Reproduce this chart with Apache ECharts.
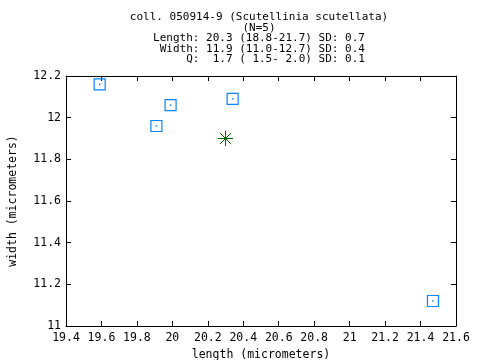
<!DOCTYPE html>
<html>
<head>
<meta charset="utf-8">
<script src="https://cdn.jsdelivr.net/npm/echarts@6/dist/echarts.min.js"></script>
<style>html,body{margin:0;padding:0;background:#fff}#c{width:480px;height:360px}</style>
</head>
<body>
<div id="c"></div>
<script>
// Data
var lengths = [19.59, 19.91, 19.99, 20.34, 21.47];
var widths = [12.16, 11.96, 12.06, 12.09, 11.12];
var meanLength = [20.3];
var meanWidth = [11.9];
var titleLines = [
  'coll. 050914-9 (Scutellinia scutellata)',
  '(N=5)',
  'Length: 20.3 (18.8-21.7) SD: 0.7',
  ' Width: 11.9 (11.0-12.7) SD: 0.4',
  '     Q:  1.7 ( 1.5- 2.0) SD: 0.1'
];
var xLabel = 'length (micrometers)';
var yLabel = 'width (micrometers)';

var FONT = 'DejaVu Sans Mono';
var FS = 11.5;
var blue = '#0a84ff';
var green = '#006400';

var pts = lengths.map(function (l, i) { return [l, widths[i]]; });
var mean = meanLength.map(function (l, i) { return [l, meanWidth[i]]; });
function fmt(v) { return String(Math.round(v * 10) / 10); }

var chart = echarts.init(document.getElementById('c'), null, {renderer: 'canvas'});
var axisCommon = {
  axisLine: {show: true, lineStyle: {color: '#000', width: 1}},
  axisTick: {show: true, inside: true, length: 5, lineStyle: {color: '#000'}},
  splitLine: {show: false}
};
chart.setOption({
  animation: false,
  backgroundColor: '#fff',
  title: {
    text: titleLines.join('\n'),
    left: 254, top: 7, textAlign: 'center',
    textStyle: {fontFamily: FONT, fontSize: 11, fontWeight: 'normal', color: '#000', lineHeight: 10.5}
  },
  grid: {left: 66, right: 24, top: 76, bottom: 34, containLabel: false, outerBoundsMode: 'none'},
  xAxis: [
    Object.assign({
      type: 'value', min: 19.4, max: 21.6, interval: 0.2, position: 'bottom',
      name: xLabel, nameLocation: 'middle', nameGap: 19,
      nameTextStyle: {fontFamily: FONT, fontSize: FS, color: '#000'},
      axisLabel: {fontFamily: FONT, fontSize: FS, color: '#000', margin: 6, formatter: fmt}
    }, axisCommon),
    Object.assign({
      type: 'value', min: 19.4, max: 21.6, interval: 0.2, position: 'top',
      axisLabel: {show: false}
    }, axisCommon)
  ],
  yAxis: [
    Object.assign({
      type: 'value', min: 11, max: 12.2, interval: 0.2, position: 'left',
      name: yLabel, nameLocation: 'middle', nameGap: 47, nameRotate: 90,
      nameTextStyle: {fontFamily: FONT, fontSize: FS, color: '#000'},
      axisLabel: {fontFamily: FONT, fontSize: FS, color: '#000', margin: 5, formatter: fmt}
    }, axisCommon),
    Object.assign({
      type: 'value', min: 11, max: 12.2, interval: 0.2, position: 'right',
      axisLabel: {show: false}
    }, axisCommon)
  ],
  series: [
    {
      type: 'scatter', data: pts, symbol: 'rect', symbolSize: 11, silent: true,
      itemStyle: {color: 'rgba(0,0,0,0)', borderColor: blue, borderWidth: 1.2, opacity: 1}
    },
    {
      type: 'scatter', data: pts, symbol: 'rect', symbolSize: 1.5, silent: true,
      itemStyle: {color: blue, opacity: 1}
    },
    {
      type: 'scatter', data: mean, symbol: 'path://M0,7L14,7M7,0L7,14M2,2L12,12M12,2L2,12',
      symbolSize: 15, silent: true,
      itemStyle: {color: 'rgba(0,0,0,0)', borderColor: green, borderWidth: 1, opacity: 1}
    },
    {
      type: 'scatter', data: mean, symbol: 'rect', symbolSize: 3, silent: true,
      itemStyle: {color: green, opacity: 1}
    }
  ]
});
</script>
</body>
</html>
